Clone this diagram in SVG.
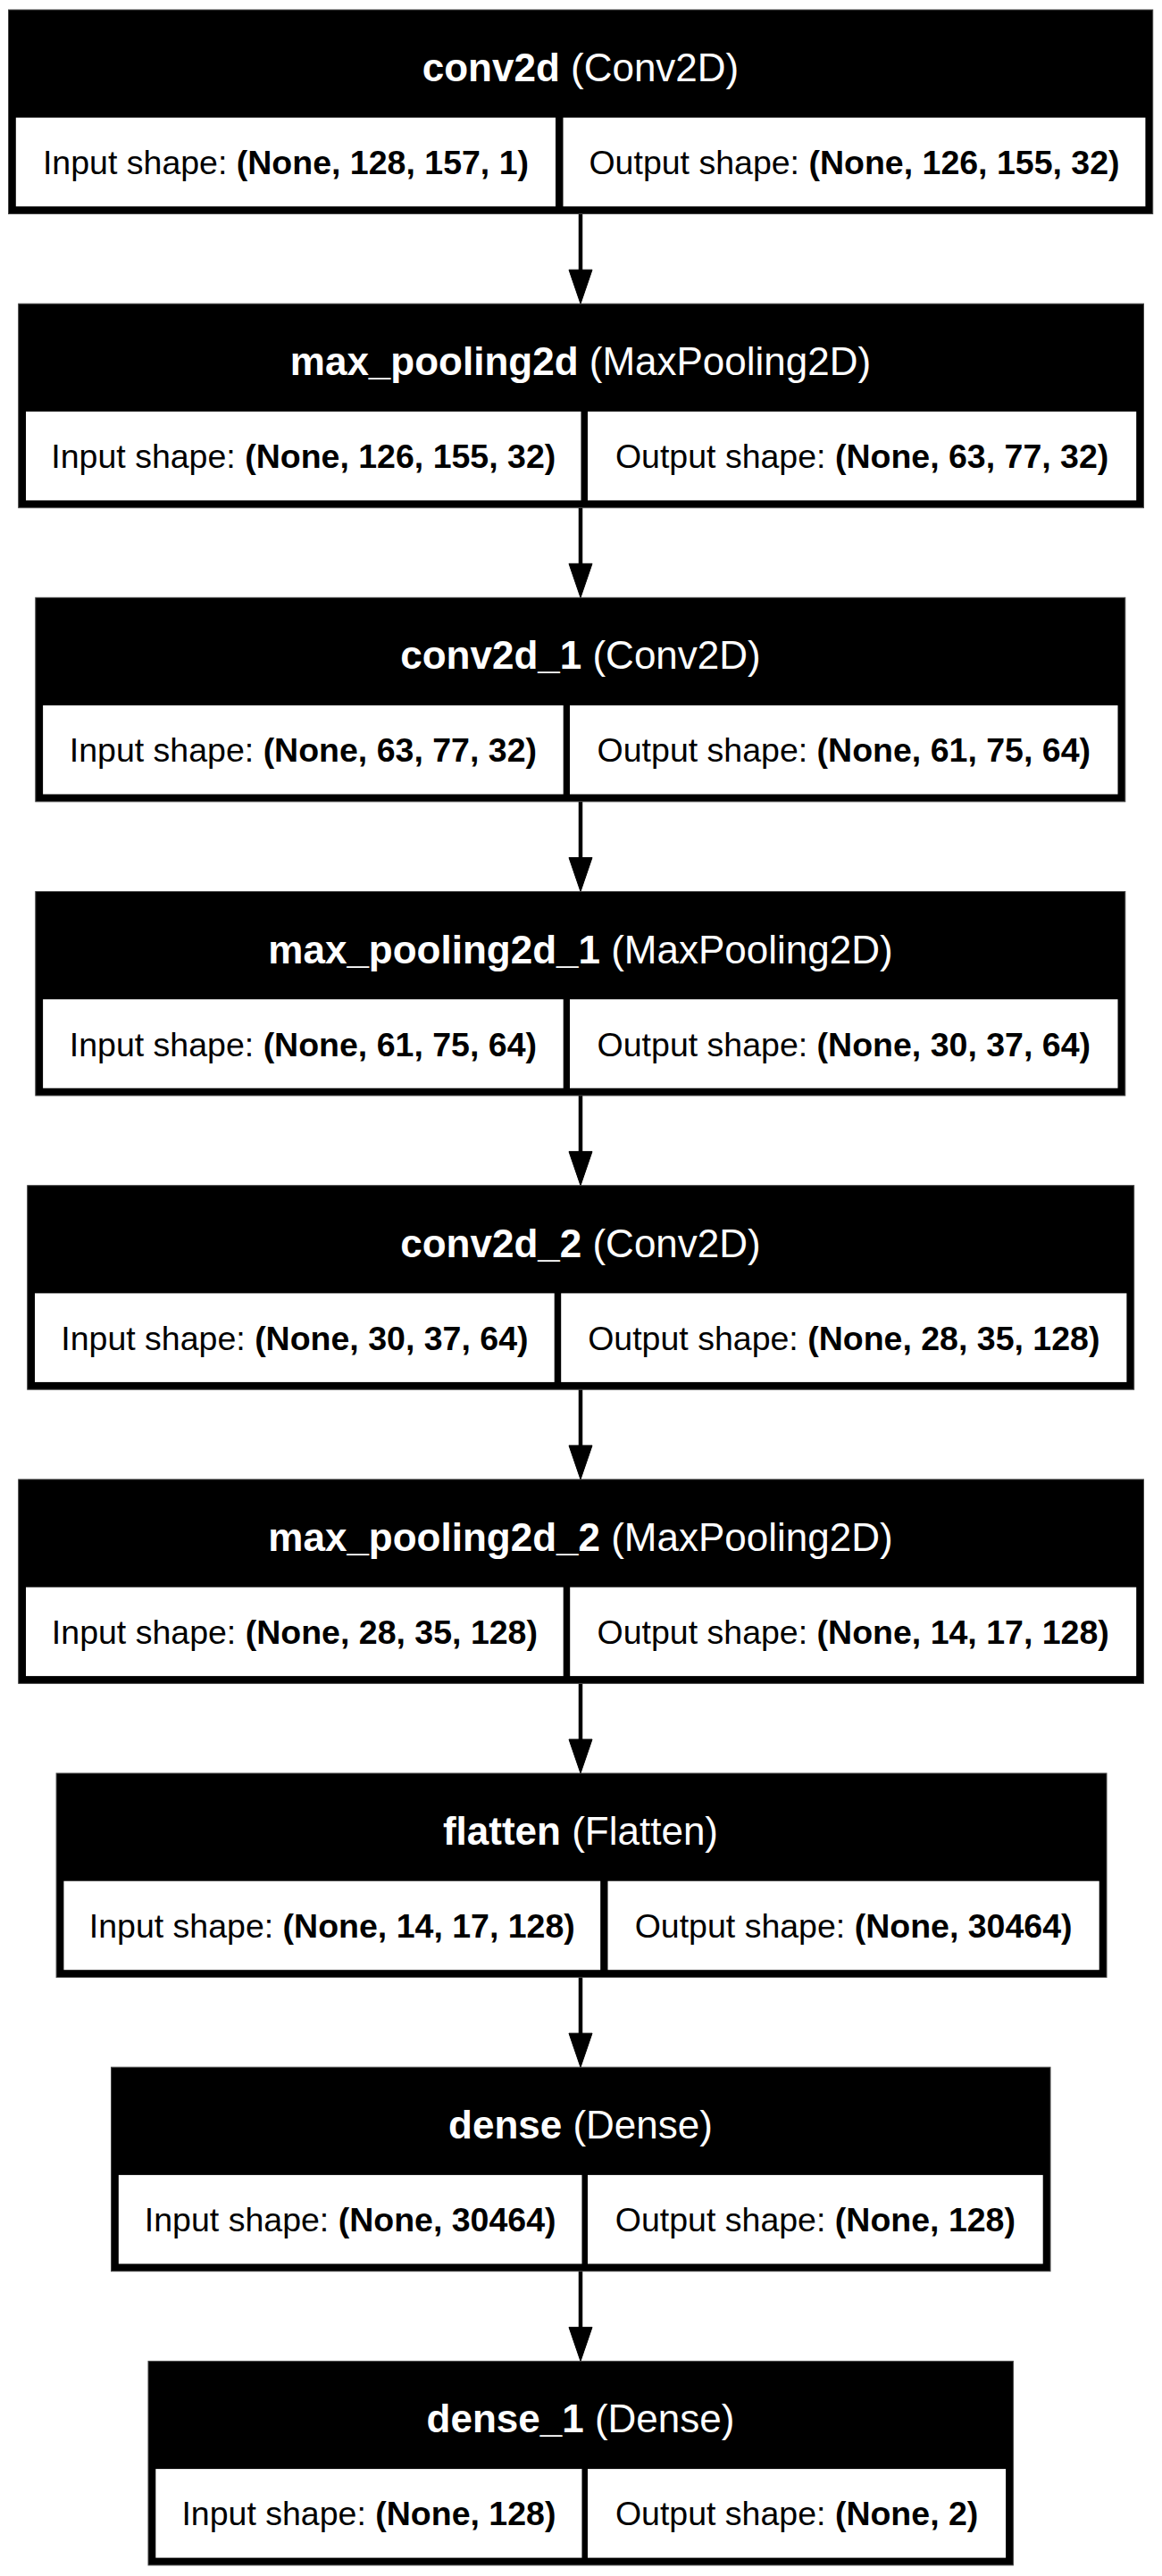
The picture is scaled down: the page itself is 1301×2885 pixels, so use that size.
<svg xmlns="http://www.w3.org/2000/svg" width="1301" height="2885" viewBox="0 0 1301 2885">
<style>
.box{fill:#000;stroke:#444;stroke-width:1}
.cell{fill:#fff}
.hd{font-family:"Liberation Sans",Arial,Helvetica,sans-serif;font-size:44px;fill:#fff;text-anchor:middle}
.tx{font-family:"Liberation Sans",Arial,Helvetica,sans-serif;font-size:37.5px;fill:#000;text-anchor:middle}
.b{font-weight:bold}
.edge{stroke:#000;stroke-width:4.5;fill:none}
.head{fill:#000;stroke:#000;stroke-width:1}
</style>
<rect x="0" y="0" width="1301" height="2885" fill="#fff"/>
<g id="connectors">
<line class="edge" x1="650" y1="239.5" x2="650" y2="304.2"/><polygon class="head" points="637,302.2 663,302.2 650,340.2"/>
<line class="edge" x1="650" y1="568.7" x2="650" y2="633.3"/><polygon class="head" points="637,631.3 663,631.3 650,669.3"/>
<line class="edge" x1="650" y1="897.8" x2="650" y2="962.5"/><polygon class="head" points="637,960.5 663,960.5 650,998.5"/>
<line class="edge" x1="650" y1="1227" x2="650" y2="1291.7"/><polygon class="head" points="637,1289.7 663,1289.7 650,1327.7"/>
<line class="edge" x1="650" y1="1556.2" x2="650" y2="1620.9"/><polygon class="head" points="637,1618.9 663,1618.9 650,1656.9"/>
<line class="edge" x1="650" y1="1885.4" x2="650" y2="1950"/><polygon class="head" points="637,1948 663,1948 650,1986"/>
<line class="edge" x1="650" y1="2214.5" x2="650" y2="2279.2"/><polygon class="head" points="637,2277.2 663,2277.2 650,2315.2"/>
<line class="edge" x1="650" y1="2543.7" x2="650" y2="2608.4"/><polygon class="head" points="637,2606.4 663,2606.4 650,2644.4"/>
</g>
<g id="conv2d">
<rect class="box" x="9.5" y="11" width="1281.2" height="228.5"/>
<rect class="cell" x="17.8" y="131.7" width="604.2" height="99.5"/>
<rect class="cell" x="630.5" y="131.7" width="651.9" height="99.5"/>
<text class="hd" x="650" y="91"><tspan class="b">conv2d</tspan> (Conv2D)</text>
<text class="tx" x="320" y="195">Input shape: <tspan class="b">(None, 128, 157, 1)</tspan></text>
<text class="tx" x="956.5" y="195">Output shape: <tspan class="b">(None, 126, 155, 32)</tspan></text>
</g>
<g id="max_pooling2d">
<rect class="box" x="20.7" y="340.2" width="1259.8" height="228.5"/>
<rect class="cell" x="29" y="460.9" width="621.5" height="99.5"/>
<rect class="cell" x="658" y="460.9" width="614.2" height="99.5"/>
<text class="hd" x="650" y="420.2"><tspan class="b">max_pooling2d</tspan> (MaxPooling2D)</text>
<text class="tx" x="339.8" y="524.2">Input shape: <tspan class="b">(None, 126, 155, 32)</tspan></text>
<text class="tx" x="965.1" y="524.2">Output shape: <tspan class="b">(None, 63, 77, 32)</tspan></text>
</g>
<g id="conv2d_1">
<rect class="box" x="39.8" y="669.3" width="1220" height="228.5"/>
<rect class="cell" x="48.1" y="790" width="582.6" height="99.5"/>
<rect class="cell" x="638" y="790" width="613.5" height="99.5"/>
<text class="hd" x="650" y="749.3"><tspan class="b">conv2d_1</tspan> (Conv2D)</text>
<text class="tx" x="339.4" y="853.3">Input shape: <tspan class="b">(None, 63, 77, 32)</tspan></text>
<text class="tx" x="944.8" y="853.3">Output shape: <tspan class="b">(None, 61, 75, 64)</tspan></text>
</g>
<g id="max_pooling2d_1">
<rect class="box" x="39.8" y="998.5" width="1220" height="228.5"/>
<rect class="cell" x="48.1" y="1119.2" width="582.6" height="99.5"/>
<rect class="cell" x="638" y="1119.2" width="613.5" height="99.5"/>
<text class="hd" x="650" y="1078.5"><tspan class="b">max_pooling2d_1</tspan> (MaxPooling2D)</text>
<text class="tx" x="339.4" y="1182.5">Input shape: <tspan class="b">(None, 61, 75, 64)</tspan></text>
<text class="tx" x="944.8" y="1182.5">Output shape: <tspan class="b">(None, 30, 37, 64)</tspan></text>
</g>
<g id="conv2d_2">
<rect class="box" x="30.7" y="1327.7" width="1239" height="228.5"/>
<rect class="cell" x="39" y="1448.4" width="581.7" height="99.5"/>
<rect class="cell" x="628.2" y="1448.4" width="633.2" height="99.5"/>
<text class="hd" x="650" y="1407.7"><tspan class="b">conv2d_2</tspan> (Conv2D)</text>
<text class="tx" x="329.9" y="1511.7">Input shape: <tspan class="b">(None, 30, 37, 64)</tspan></text>
<text class="tx" x="944.8" y="1511.7">Output shape: <tspan class="b">(None, 28, 35, 128)</tspan></text>
</g>
<g id="max_pooling2d_2">
<rect class="box" x="20.7" y="1656.9" width="1259.8" height="228.5"/>
<rect class="cell" x="29" y="1777.6" width="601.7" height="99.5"/>
<rect class="cell" x="638.2" y="1777.6" width="634" height="99.5"/>
<text class="hd" x="650" y="1736.9"><tspan class="b">max_pooling2d_2</tspan> (MaxPooling2D)</text>
<text class="tx" x="329.9" y="1840.9">Input shape: <tspan class="b">(None, 28, 35, 128)</tspan></text>
<text class="tx" x="955.2" y="1840.9">Output shape: <tspan class="b">(None, 14, 17, 128)</tspan></text>
</g>
<g id="flatten">
<rect class="box" x="63.1" y="1986" width="1175.9" height="228.5"/>
<rect class="cell" x="71.4" y="2106.7" width="600.8" height="99.5"/>
<rect class="cell" x="680.5" y="2106.7" width="550.2" height="99.5"/>
<text class="hd" x="650" y="2066"><tspan class="b">flatten</tspan> (Flatten)</text>
<text class="tx" x="371.8" y="2170">Input shape: <tspan class="b">(None, 14, 17, 128)</tspan></text>
<text class="tx" x="955.6" y="2170">Output shape: <tspan class="b">(None, 30464)</tspan></text>
</g>
<g id="dense">
<rect class="box" x="124.5" y="2315.2" width="1051.5" height="228.5"/>
<rect class="cell" x="132.8" y="2435.9" width="518.7" height="99.5"/>
<rect class="cell" x="658" y="2435.9" width="509.7" height="99.5"/>
<text class="hd" x="650" y="2395.2"><tspan class="b">dense</tspan> (Dense)</text>
<text class="tx" x="392.2" y="2499.2">Input shape: <tspan class="b">(None, 30464)</tspan></text>
<text class="tx" x="912.9" y="2499.2">Output shape: <tspan class="b">(None, 128)</tspan></text>
</g>
<g id="dense_1">
<rect class="box" x="166" y="2644.4" width="968.4" height="228.5"/>
<rect class="cell" x="174.3" y="2765.1" width="477.2" height="99.5"/>
<rect class="cell" x="658" y="2765.1" width="468.1" height="99.5"/>
<text class="hd" x="650" y="2724.4"><tspan class="b">dense_1</tspan> (Dense)</text>
<text class="tx" x="412.9" y="2828.4">Input shape: <tspan class="b">(None, 128)</tspan></text>
<text class="tx" x="892.1" y="2828.4">Output shape: <tspan class="b">(None, 2)</tspan></text>
</g>
</svg>
